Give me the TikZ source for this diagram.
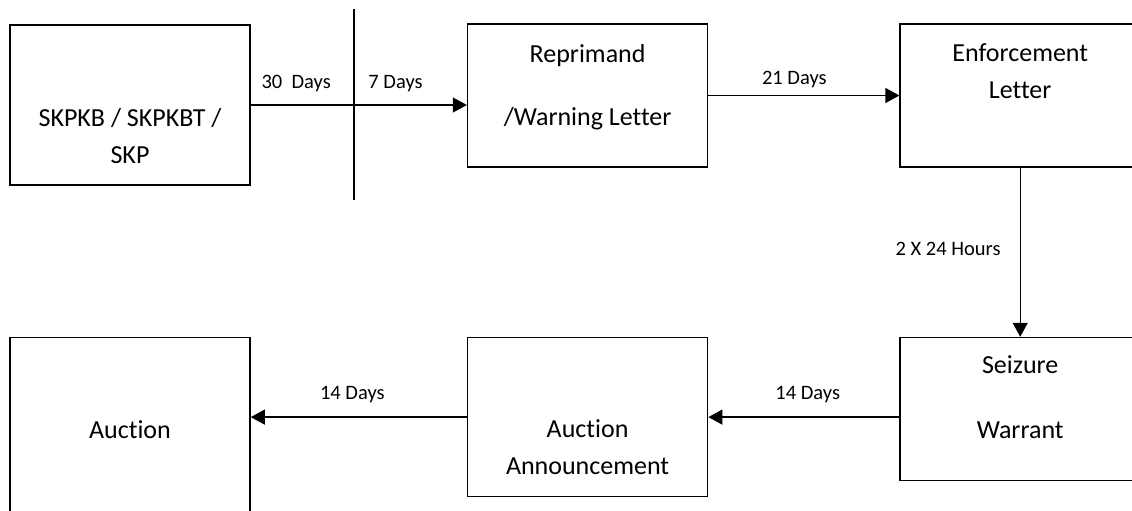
\documentclass[tikz,border=0pt]{standalone}
\usepackage{fontspec}
\setmainfont{Carlito}[Ligatures=NoCommon]
\usetikzlibrary{positioning,arrows.meta}

\begin{document}
\begin{tikzpicture}[x=1pt,y=-1pt,>={Triangle[length=14pt,width=15pt]},
  box/.style={shape=rectangle,draw,line width=1.6pt,minimum width=240pt,inner sep=0pt},
  txt/.style={align=center,font=\fontsize{26}{37}\selectfont},
  lbl/.style={inner sep=1pt,font=\fontsize{20.5}{24}\selectfont},
  link/.style={->,line width=1.3pt},
]
\useasboundingbox (0,0) rectangle (1132,511);
\clip (0,0) rectangle (1132,511);

\node[box,minimum height=160pt] (b1) at (130,105) {};
\node[box,minimum height=143pt,right=216pt of b1,yshift=9.5pt] (b2) {};
\node[box,minimum height=143pt,right=191pt of b2] (b3) {};
\node[box,minimum height=143pt,below=169pt of b3] (b4) {};
\node[box,minimum height=159pt,left=191pt of b4,yshift=-8pt] (b5) {};
\node[box,minimum height=184pt,left=216pt of b5,yshift=-12.5pt] (b6) {};

\node[txt] (t1) at ([yshift=-31.5pt]b1.center) {SKPKB / SKPKBT /\\SKP};
\node[txt] (t2) at ([yshift=8pt]b2.center) {Reprimand\\[26pt]/Warning Letter};
\node[txt] (t3) at ([yshift=24pt]b3.center) {Enforcement\\Letter};
\node[txt] (t4) at ([yshift=12pt]b4.center) {Seizure\\[28pt]Warrant};
\node[txt] (t5) at ([yshift=-30.5pt]b5.center) {Auction\\Announcement};
\node[txt] (t6) at (b6.center) {Auction};

\coordinate (d1) at (354,9);
\coordinate (d2) at (354,200);
\draw[line width=1.3pt] (d1) -- (d2);

\draw[link] (b1.east) -- node[lbl,pos=.21,above=12pt] (l1) {30\ \ Days}
  node[lbl,pos=.67,above=12pt] (l2) {7 Days} (b1.east -| b2.west);
\draw[link] (b2.east) -- node[lbl,pos=.45,above=6pt] (l3) {21 Days} (b3.west);
\draw[link] (b3.south) -- node[lbl,pos=.48,left=18pt] (l4) {2 X 24 Hours} (b4.north);
\draw[link] (b5.east -| b4.west) -- node[lbl,pos=.48,above=13pt] (l5) {14 Days} (b5.east);
\draw[link] (b5.west) -- node[lbl,pos=.53,above=13pt] (l6) {14 Days} (b5.west -| b6.east);
\end{tikzpicture}
\end{document}
